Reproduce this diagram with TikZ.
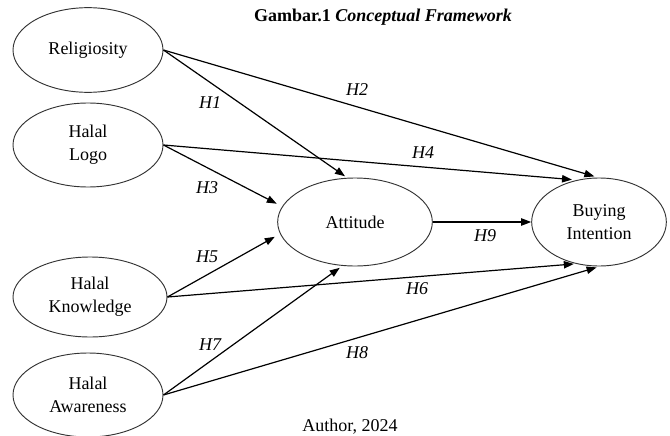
\documentclass[tikz,border=0pt]{standalone}
\usepackage{fontspec}
\setmainfont{Liberation Serif}
\usetikzlibrary{shapes.geometric,arrows.meta}
\begin{document}
\begin{tikzpicture}[x=0.75pt,y=-0.75pt,
  var/.style={ellipse, draw=black!80, line width=0.7pt, inner sep=0pt, align=center,
    font=\fontsize{13.5}{17}\selectfont},
  hyp/.style={-{Triangle[length=7.5pt,width=5.5pt]}, line width=0.9pt, black},
  lab/.style={font=\fontsize{13.5}{17}\selectfont\itshape, inner sep=0pt},
  txt/.style={font=\fontsize{13.5}{17}\selectfont, inner sep=0pt}]
\useasboundingbox (0,0) rectangle (670,435);
% variables
\node[var, minimum width=112.5pt, minimum height=63.5pt] (rel) at (88,50) {Religiosity};
\node[var, minimum width=112.5pt, minimum height=63pt] (logo) at (88,145) {Halal\\Logo};
\node[var, minimum width=115.5pt, minimum height=60pt] (know) at (90,297) {Halal\\Knowledge};
\node[var, minimum width=112.5pt, minimum height=63pt] (aware) at (88,395) {Halal\\Awareness};
\node[var, minimum width=116pt, minimum height=66pt] (att) at (355,222) {Attitude};
\node[var, minimum width=101pt, minimum height=66pt] (buy) at (599,222) {Buying\\Intention};
% hypotheses
\draw[hyp, shorten >=2pt] (rel.east) -- (att.100);
\draw[hyp, shorten >=3pt] (rel.east) -- (buy.91);
\draw[hyp, shorten >=4.5pt] (logo.east) -- (att.168);
\draw[hyp, shorten >=3.5pt] (logo.east) -- (buy.118);
\draw[hyp, shorten >=4.5pt] (know.east) -- (att.189);
\draw[hyp, shorten >=1.5pt] (know.east) -- (buy.241);
\draw[hyp, shorten >=2.5pt] (aware.east) -- (att.254);
\draw[hyp, shorten >=2.5pt] (aware.east) -- (buy.271);
\draw[hyp] (att.east) -- (buy.west);
% labels
\node[lab] (l1) at (210,103) {H1};
\node[lab] (l2) at (357,90) {H2};
\node[lab] (l3) at (207,188) {H3};
\node[lab] (l4) at (423,153) {H4};
\node[lab] (l5) at (207,257) {H5};
\node[lab] (l6) at (417,289) {H6};
\node[lab] (l7) at (210,345) {H7};
\node[lab] (l8) at (357,353) {H8};
\node[lab] (l9) at (485,236) {H9};
% title and source
\node[txt] (title) at (383,17) {\bfseries Gambar.1 \itshape Conceptual Framework};
\node[txt] (src) at (350,427) {Author, 2024};
\end{tikzpicture}
\end{document}
